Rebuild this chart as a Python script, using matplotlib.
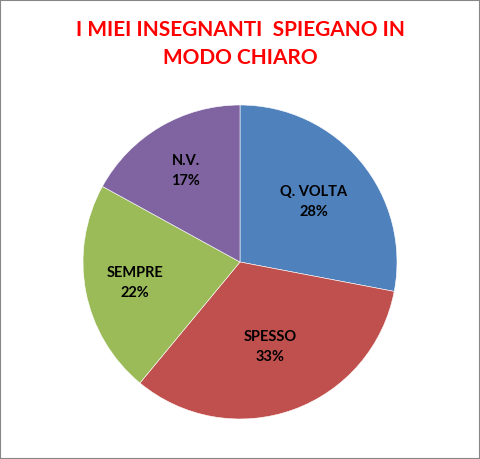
import matplotlib
matplotlib.use("Agg")
import numpy as np
import matplotlib.pyplot as plt
from matplotlib.patches import Rectangle

categories = ["Q. VOLTA", "SPESSO", "SEMPRE", "N.V."]
values = [28, 33, 22, 17]
colors = ["#4F81BD", "#C0504D", "#9BBB59", "#8064A2"]
title = "I MIEI INSEGNANTI  SPIEGANO IN\nMODO CHIARO"

label_radius = [0.61, 0.57, 0.68, 0.68]

plt.rcParams['font.family'] = ['Lato', 'DejaVu Sans']

fig = plt.figure(figsize=(4.81, 4.60), dpi=100)
ax = fig.add_axes([83/481, 40/460, 314/481, 314/460])

total = sum(values)
wedges, texts = ax.pie(
    values, colors=colors, startangle=90, counterclock=False,
    wedgeprops=dict(edgecolor="white", linewidth=0.4),
)
for w, cat, v, r in zip(wedges, categories, values, label_radius):
    ang = np.deg2rad((w.theta1 + w.theta2) / 2)
    ax.text(r * np.cos(ang), r * np.sin(ang), f"{cat}\n{round(v / total * 100)}%",
            ha="center", va="center", fontsize=10.5, fontweight="bold",
            color="black", linespacing=1.5)
ax.set_aspect("equal")
ax.set_xlim(-1, 1)
ax.set_ylim(-1, 1)

fig.text(0.5, 1 - 44/460, title, ha="center", va="center", color="#FF0000",
         fontsize=15, fontweight="bold", linespacing=1.5)

fig.patches.append(Rectangle((0.001, 0.001), 0.997, 0.996, transform=fig.transFigure,
                             fill=False, edgecolor="#868686", linewidth=1.5))

fig.savefig("out.png", dpi=100, facecolor="white")
